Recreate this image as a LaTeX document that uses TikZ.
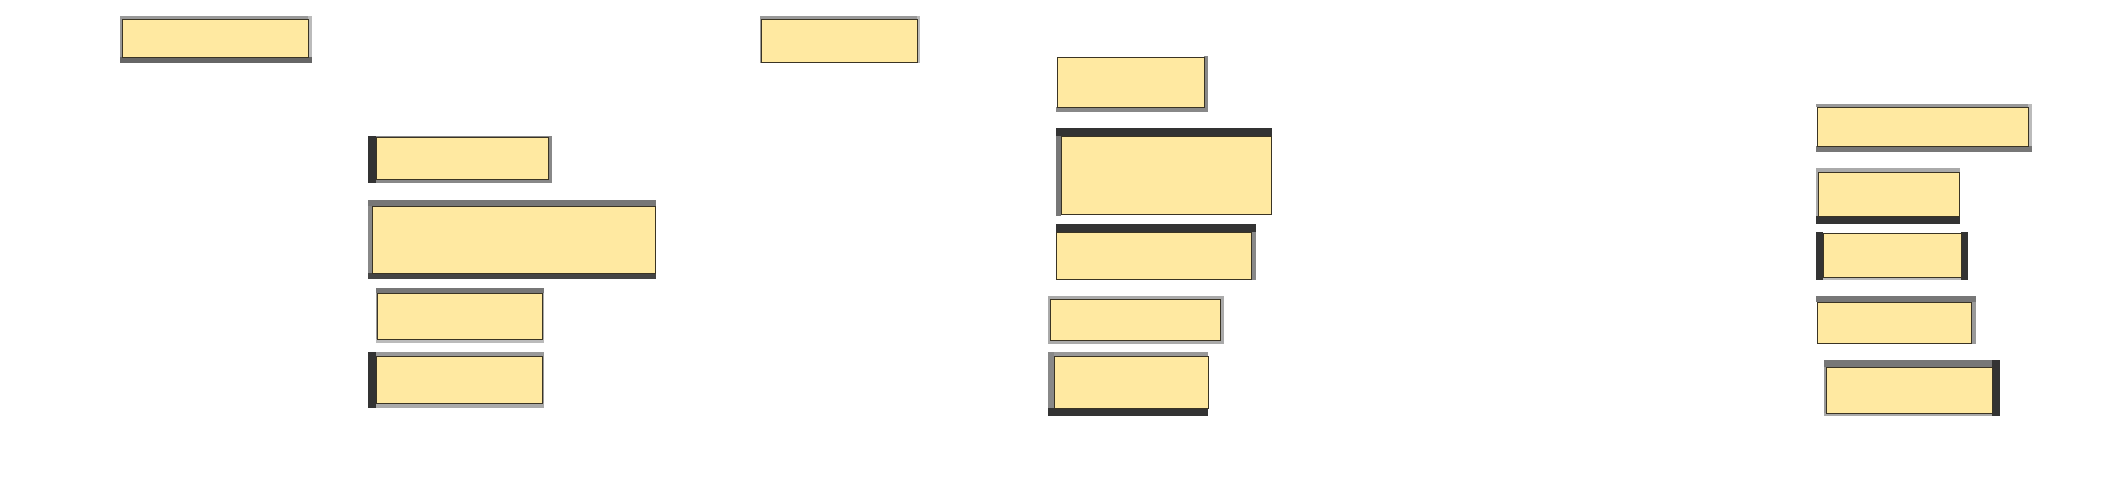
\documentclass[tikz,border=0pt]{standalone}
\usetikzlibrary{positioning}
\definecolor{yel}{HTML}{FFE9A1}
\definecolor{edge}{HTML}{3A3424}
\definecolor{dk}{HTML}{333333}
\definecolor{dd}{HTML}{444444}
\definecolor{g6}{HTML}{666666}
\definecolor{g7}{HTML}{777777}
\definecolor{g8}{HTML}{888888}
\definecolor{g9}{HTML}{999999}
\definecolor{ga}{HTML}{AAAAAA}
\definecolor{gb}{HTML}{BBBBBB}
\tikzset{
  inbox/.style={draw=edge, line width=1pt, fill=yel, anchor=north west, inner sep=0pt, outer sep=0pt},
}
\newcommand\ibx[5]{\node[inbox, minimum width=#4pt, minimum height=#5pt] (#1) at (#2,#3) {};}
\begin{document}
\begin{tikzpicture}[x=1pt,y=-1pt]
\useasboundingbox (0,0) rectangle (2118,488);
% Box 1
\fill[g9] (120,16) rectangle (312,19);
\fill[g9] (120,16) rectangle (122,63);
\fill[gb] (308,16) rectangle (312,63);
\fill[g6] (120,57) rectangle (312,63);
\ibx{b1}{122}{19}{186}{38}
% Box 2
\fill[g9] (760,16) rectangle (920,19);
\fill[g9] (760,16) rectangle (761,63);
\fill[gb] (917,16) rectangle (920,63);
\ibx{b2}{761}{19}{156}{43}
% A
\fill[g8] (368,136) rectangle (552,137);
\fill[g8] (548,136) rectangle (552,183);
\fill[g8] (368,179) rectangle (552,183);
\fill[dk] (368,136) rectangle (376,183);
\ibx{bA}{376}{137}{172}{42}
% B
\fill[g8] (368,200) rectangle (372,279);
\fill[g7] (368,200) rectangle (656,206);
\fill[g7] (655,200) rectangle (656,279);
\fill[dd] (368,273) rectangle (656,279);
\ibx{bB}{372}{206}{283}{67}
% C
\fill[g9] (376,288) rectangle (377,343);
\fill[ga] (542,288) rectangle (544,343);
\fill[gb] (376,339) rectangle (544,343);
\fill[g7] (376,288) rectangle (544,293);
\ibx{bC}{377}{293}{165}{46}
% D
\fill[g9] (368,352) rectangle (544,356);
\fill[g9] (542,352) rectangle (544,408);
\fill[ga] (368,403) rectangle (544,408);
\fill[dk] (368,352) rectangle (376,408);
\ibx{bD}{376}{356}{166}{47}
% E
\fill[g8] (1204,56) rectangle (1208,112);
\fill[g8] (1056,107) rectangle (1208,112);
\ibx{bE}{1057}{57}{147}{50}
% F
\fill[g7] (1056,128) rectangle (1061,216);
\fill[dk] (1056,128) rectangle (1272,136);
\ibx{bF}{1061}{136}{210}{78}
% G
\fill[g8] (1251,224) rectangle (1256,280);
\fill[dk] (1056,224) rectangle (1256,232);
\ibx{bG}{1056}{232}{195}{47}
% H
\fill[ga] (1048,296) rectangle (1224,344);
\ibx{bH}{1050}{299}{170}{41}
% I
\fill[g9] (1048,352) rectangle (1208,356);
\fill[g8] (1048,352) rectangle (1054,416);
\fill[dk] (1048,408) rectangle (1208,416);
\ibx{bI}{1054}{356}{154}{52}
% J
\fill[g9] (1816,104) rectangle (2032,107);
\fill[gb] (2028,104) rectangle (2032,152);
\fill[g7] (1816,146) rectangle (2032,152);
\ibx{bJ}{1817}{107}{211}{39}
% K
\fill[ga] (1816,168) rectangle (1960,172);
\fill[ga] (1816,168) rectangle (1818,224);
\fill[dk] (1816,216) rectangle (1960,224);
\ibx{bK}{1818}{172}{141}{44}
% L
\fill[gb] (1823,277) rectangle (1961,280);
\fill[dk] (1816,232) rectangle (1823,280);
\fill[dk] (1961,232) rectangle (1968,280);
\ibx{bL}{1823}{233}{138}{44}
% M
\fill[g9] (1971,296) rectangle (1976,344);
\fill[g7] (1816,296) rectangle (1976,302);
\ibx{bM}{1817}{302}{154}{41}
% N
\fill[g9] (1824,360) rectangle (1826,416);
\fill[ga] (1824,413) rectangle (2000,416);
\fill[g7] (1824,360) rectangle (2000,367);
\fill[dk] (1992,360) rectangle (2000,416);
\ibx{bN}{1826}{367}{166}{46}
\end{tikzpicture}
\end{document}
